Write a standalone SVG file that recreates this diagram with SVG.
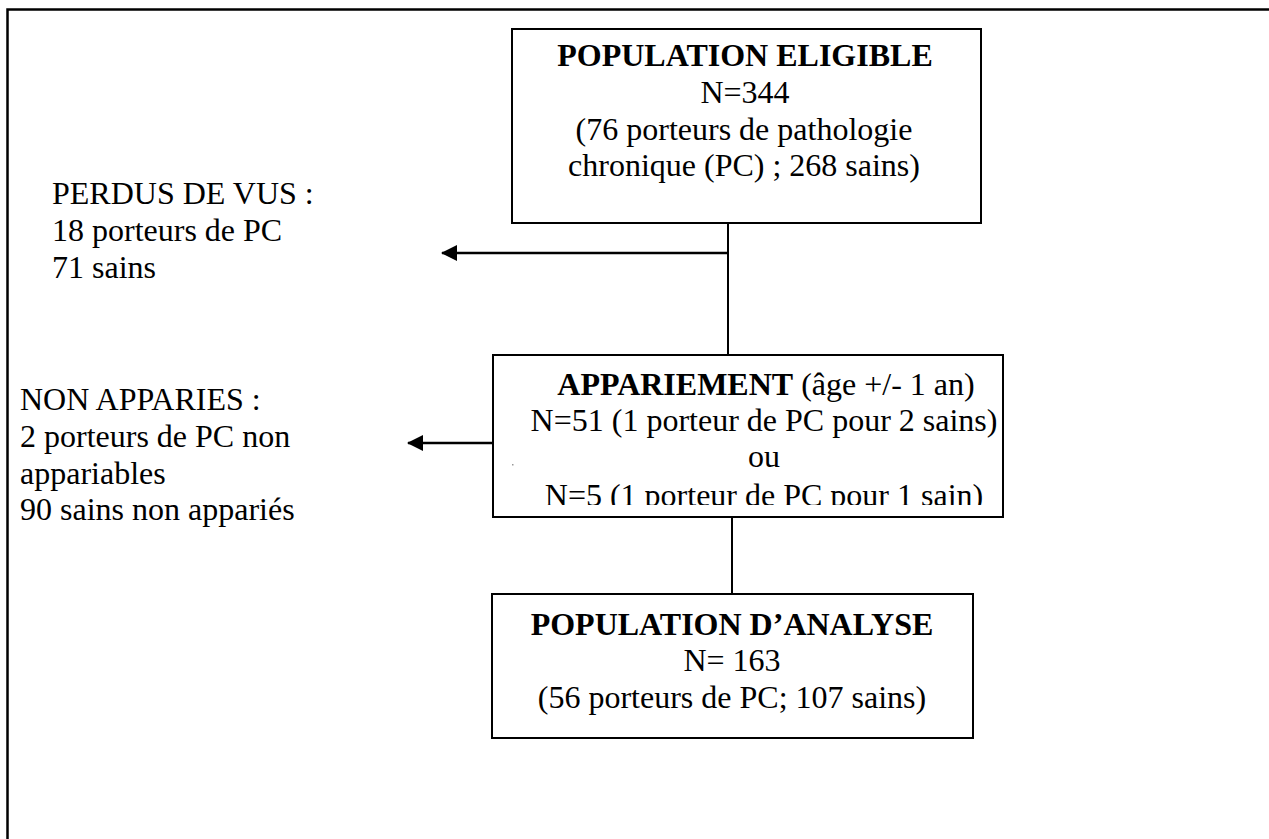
<svg xmlns="http://www.w3.org/2000/svg" width="1269" height="839" viewBox="0 0 1269 839">
<style>
text{font-family:"Liberation Serif","Times New Roman",serif;font-size:32px;fill:#000}
.c{text-anchor:middle}
.b{font-weight:bold}
.box{fill:#fff;stroke:#000;stroke-width:2}
.ln{stroke:#000;stroke-width:2;fill:none}
.arr{stroke:#000;stroke-width:2.5;fill:none;marker-end:url(#ah)}
.frame{stroke:#000;stroke-width:2.5;fill:none}
</style>
<defs>
<marker id="ah" markerUnits="userSpaceOnUse" viewBox="0 0 16 16" refX="15" refY="8" markerWidth="16" markerHeight="16" orient="auto">
<path d="M0,0 L16,8 L0,16 z" fill="#000"/>
</marker>
<clipPath id="clip2"><rect x="494" y="356" width="508" height="149"/></clipPath>
</defs>
<rect width="1269" height="839" fill="#fff"/>
<path class="frame" d="M7.5,839 V9.5 H1269"/>

<g id="connectors">
<path class="ln" d="M728,223 V355"/>
<path class="arr" d="M728,253 H442"/>
<path class="arr" d="M493,443 H408"/>
<path class="ln" d="M732,517 V594"/>
</g>

<g id="node-eligible">
<rect class="box" x="512" y="29" width="469" height="194"/>
<text class="c b" x="745" y="66">POPULATION ELIGIBLE</text>
<text class="c" x="745" y="103">N=344</text>
<text class="c" x="744" y="140">(76 porteurs de pathologie</text>
<text class="c" x="744" y="176">chronique (PC) ; 268 sains)</text>
</g>

<g id="node-perdus">
<text x="52" y="204">PERDUS DE VUS :</text>
<text x="52" y="241">18 porteurs de PC</text>
<text x="52" y="278">71 sains</text>
</g>

<g id="node-appariement">
<rect class="box" x="493" y="355" width="510" height="162"/>
<g clip-path="url(#clip2)">
<text class="c" x="766" y="395"><tspan class="b">APPARIEMENT</tspan> (âge +/- 1 an)</text>
<text class="c" x="764" y="431">N=51 (1 porteur de PC pour 2 sains)</text>
<text class="c" x="764" y="467">ou</text>
<text class="c" x="764" y="506">N=5 (1 porteur de PC pour 1 sain)</text>
</g>
<rect x="512" y="464" width="1.5" height="1.5" fill="#999"/>
</g>

<g id="node-nonapparies">
<text x="20" y="410">NON APPARIES :</text>
<text x="20" y="447">2 porteurs de PC non</text>
<text x="20" y="484">appariables</text>
<text x="20" y="520">90 sains non appariés</text>
</g>

<g id="node-analyse">
<rect class="box" x="492" y="594" width="481" height="144"/>
<text class="c b" x="732" y="635">POPULATION D’ANALYSE</text>
<text class="c" x="732" y="671">N= 163</text>
<text class="c" x="732" y="708">(56 porteurs de PC; 107 sains)</text>
</g>
</svg>
